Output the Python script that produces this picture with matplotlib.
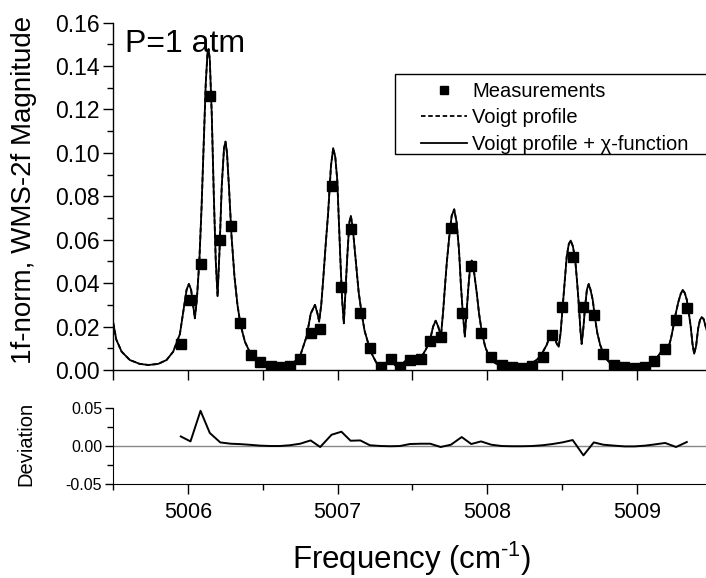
import matplotlib
matplotlib.use('Agg')
import matplotlib.pyplot as plt
from matplotlib.ticker import MultipleLocator
from matplotlib.patches import Rectangle

plt.rcParams['font.family'] = ['Liberation Sans', 'DejaVu Sans']
plt.rcParams['mathtext.fontset'] = 'custom'
plt.rcParams['mathtext.rm'] = 'Liberation Sans'
plt.rcParams['mathtext.it'] = 'Liberation Sans:italic'

# measured points (frequency in cm-1, WMS-2f magnitude)
meas_freq = [5005.951, 5006.016, 5006.083, 5006.145, 5006.215, 5006.285, 5006.346,
             5006.419, 5006.482, 5006.551, 5006.613, 5006.680, 5006.749, 5006.819,
             5006.883, 5006.959, 5007.025, 5007.086, 5007.151, 5007.215, 5007.289,
             5007.354, 5007.416, 5007.483, 5007.555, 5007.619, 5007.688, 5007.757,
             5007.829, 5007.893, 5007.958, 5008.027, 5008.096, 5008.163, 5008.230,
             5008.300, 5008.370, 5008.433, 5008.502, 5008.571, 5008.643, 5008.712,
             5008.776, 5008.848, 5008.917, 5008.986, 5009.055, 5009.117, 5009.189,
             5009.262, 5009.334]
meas_val = [0.0120, 0.0323, 0.0487, 0.1260, 0.0600, 0.0664, 0.0218,
            0.0071, 0.0035, 0.0018, 0.0014, 0.0020, 0.0051, 0.0172,
            0.0189, 0.0848, 0.0383, 0.0650, 0.0261, 0.0103, 0.0012,
            0.0052, 0.0015, 0.0046, 0.0049, 0.0134, 0.0150, 0.0654,
            0.0261, 0.0479, 0.0172, 0.0058, 0.0025, 0.0014, 0.0010,
            0.0020, 0.0061, 0.0161, 0.0289, 0.0519, 0.0289, 0.0253,
            0.0074, 0.0023, 0.0012, 0.0009, 0.0015, 0.0041, 0.0097,
            0.0230, 0.0284]

# deviation at each measured point
deviation = [0.0125, 0.0060, 0.0460, 0.0170, 0.0047, 0.0030, 0.0025,
             0.0015, 0.0005, 0.0000, 0.0000, 0.0010, 0.0030, 0.0073,
             -0.0013, 0.0147, 0.0187, 0.0069, 0.0073, 0.0010, 0.0000,
             -0.0003, 0.0000, 0.0026, 0.0030, 0.0030, -0.0013, 0.0017,
             0.0117, 0.0026, 0.0060, 0.0017, 0.0000, -0.0003, -0.0003,
             0.0000, 0.0010, 0.0025, 0.0047, 0.0078, -0.0122, 0.0047,
             0.0017, 0.0005, -0.0005, -0.0005, 0.0005, 0.0020, 0.0040,
             -0.0013, 0.0052]

# fitted profile
fit_freq = [5005.500, 5005.520, 5005.555, 5005.610, 5005.677, 5005.735, 5005.800,
            5005.856, 5005.900, 5005.945, 5005.975, 5005.990, 5006.005, 5006.020,
            5006.033, 5006.045, 5006.058, 5006.075, 5006.090, 5006.105, 5006.118,
            5006.130, 5006.137, 5006.145, 5006.158, 5006.172, 5006.185, 5006.197,
            5006.210, 5006.225, 5006.240, 5006.250, 5006.260, 5006.275, 5006.290,
            5006.310, 5006.330, 5006.350, 5006.380, 5006.415, 5006.450, 5006.500,
            5006.550, 5006.600, 5006.650, 5006.700, 5006.747, 5006.792, 5006.820,
            5006.848, 5006.865, 5006.876, 5006.890, 5006.903, 5006.920, 5006.936,
            5006.955, 5006.970, 5006.984, 5006.997, 5007.008, 5007.019, 5007.030,
            5007.041, 5007.052, 5007.064, 5007.078, 5007.088, 5007.100, 5007.122,
            5007.140, 5007.160, 5007.180, 5007.204, 5007.230, 5007.260, 5007.293,
            5007.320, 5007.350, 5007.380, 5007.406, 5007.435, 5007.460, 5007.500,
            5007.530, 5007.561, 5007.590, 5007.617, 5007.638, 5007.655, 5007.672,
            5007.690, 5007.705, 5007.717, 5007.730, 5007.746, 5007.762, 5007.779,
            5007.795, 5007.811, 5007.823, 5007.835, 5007.850, 5007.862, 5007.874,
            5007.885, 5007.896, 5007.910, 5007.930, 5007.945, 5007.963, 5007.985,
            5008.007, 5008.040, 5008.074, 5008.120, 5008.163, 5008.210, 5008.252,
            5008.290, 5008.330, 5008.365, 5008.397, 5008.415, 5008.432, 5008.450,
            5008.465, 5008.478, 5008.490, 5008.504, 5008.518, 5008.531, 5008.545,
            5008.558, 5008.572, 5008.587, 5008.600, 5008.613, 5008.623, 5008.631,
            5008.642, 5008.654, 5008.666, 5008.678, 5008.690, 5008.705, 5008.720,
            5008.736, 5008.755, 5008.776, 5008.800, 5008.820, 5008.860, 5008.910,
            5008.955, 5009.000, 5009.040, 5009.077, 5009.105, 5009.133, 5009.155,
            5009.178, 5009.195, 5009.210, 5009.228, 5009.244, 5009.260, 5009.278,
            5009.293, 5009.307, 5009.320, 5009.334, 5009.348, 5009.360, 5009.372,
            5009.383, 5009.396, 5009.410, 5009.422, 5009.433, 5009.446, 5009.460,
            5009.480]
fit_val = [0.0215, 0.0140, 0.0085, 0.0046, 0.0028, 0.0023, 0.0028,
           0.0046, 0.0084, 0.0165, 0.0300, 0.0370, 0.0396, 0.0370,
           0.0300, 0.0238, 0.0320, 0.0500, 0.0750, 0.1050, 0.1320,
           0.1465, 0.1478, 0.1430, 0.1180, 0.0800, 0.0500, 0.0340,
           0.0550, 0.0850, 0.1020, 0.1052, 0.1000, 0.0820, 0.0620,
           0.0430, 0.0300, 0.0210, 0.0130, 0.0078, 0.0045, 0.0025,
           0.0017, 0.0013, 0.0017, 0.0032, 0.0061, 0.0154, 0.0260,
           0.0300, 0.0260, 0.0223, 0.0300, 0.0415, 0.0580, 0.0722,
           0.0940, 0.1022, 0.0980, 0.0876, 0.0680, 0.0492, 0.0320,
           0.0215, 0.0360, 0.0522, 0.0680, 0.0710, 0.0660, 0.0492,
           0.0360, 0.0261, 0.0180, 0.0123, 0.0072, 0.0031, 0.0008,
           0.0028, 0.0046, 0.0025, 0.0008, 0.0030, 0.0046, 0.0048,
           0.0046, 0.0061, 0.0095, 0.0138, 0.0200, 0.0227, 0.0200,
           0.0154, 0.0270, 0.0384, 0.0500, 0.0614, 0.0710, 0.0740,
           0.0680, 0.0553, 0.0400, 0.0276, 0.0154, 0.0270, 0.0384,
           0.0470, 0.0504, 0.0460, 0.0353, 0.0260, 0.0177, 0.0110,
           0.0069, 0.0038, 0.0023, 0.0012, 0.0008, 0.0011, 0.0015,
           0.0028, 0.0046, 0.0075, 0.0115, 0.0150, 0.0168, 0.0150,
           0.0120, 0.0107, 0.0170, 0.0292, 0.0420, 0.0522, 0.0580,
           0.0596, 0.0570, 0.0515, 0.0410, 0.0292, 0.0180, 0.0120,
           0.0190, 0.0292, 0.0370, 0.0396, 0.0370, 0.0323, 0.0240,
           0.0169, 0.0115, 0.0077, 0.0048, 0.0031, 0.0015, 0.0008,
           0.0006, 0.0008, 0.0014, 0.0023, 0.0036, 0.0054, 0.0078,
           0.0100, 0.0095, 0.0100, 0.0145, 0.0200, 0.0260, 0.0315,
           0.0350, 0.0369, 0.0355, 0.0323, 0.0260, 0.0200, 0.0120,
           0.0075, 0.0110, 0.0192, 0.0230, 0.0243, 0.0235, 0.0200,
           0.0150]

W, H = 706, 578
fig = plt.figure(figsize=(7.06, 5.78), dpi=100)
ax = fig.add_axes([0.1605, 0.3599, 0.8475, 0.6009])
ax2 = fig.add_axes([0.1605, 0.1621, 0.8475, 0.1325])

# top panel
ax.plot(fit_freq, fit_val, color='black', lw=1.3, ls=(0, (2.5, 1.5)), label='Voigt profile')
ax.plot(fit_freq, fit_val, color='black', lw=1.3, label=u'Voigt profile + \u03c7-function')
ax.plot(meas_freq, meas_val, 's', color='black', ms=6.8, ls='none', label='Measurements')
ax.set_xlim(5005.5, 5009.5)
ax.set_ylim(0, 0.16)
ax.yaxis.set_minor_locator(MultipleLocator(0.01))
ax.xaxis.set_major_locator(MultipleLocator(1))
ax.xaxis.set_minor_locator(MultipleLocator(0.5))
ax.set_yticks([0, 0.02, 0.04, 0.06, 0.08, 0.10, 0.12, 0.14, 0.16])
ax.set_yticklabels(['0.00', '0.02', '0.04', '0.06', '0.08', '0.10', '0.12', '0.14', '0.16'])
ax.tick_params(axis='y', which='major', length=7.5, width=1, labelsize=16.5, pad=2)
ax.tick_params(axis='y', which='minor', length=4, width=1)
ax.tick_params(axis='x', which='both', length=7, width=1, labelbottom=False)
for s in ['top', 'right']:
    ax.spines[s].set_visible(False)
for s in ['left', 'bottom']:
    ax.spines[s].set_linewidth(1)

ax.text(5005.581, 0.1467, 'P=1 atm', fontsize=23, va='baseline', ha='left')

# legend: entries without frame, box drawn separately
h, l = ax.get_legend_handles_labels()
order = [2, 0, 1]
leg = ax.legend([h[i] for i in order], [l[i] for i in order],
                loc='upper left', bbox_to_anchor=(421 / W, 1 - 82 / H),
                bbox_transform=fig.transFigure, fontsize=14.5, frameon=False,
                borderpad=0, handlelength=2.3, handletextpad=0.25,
                labelspacing=0.37, markerscale=0.85, borderaxespad=0)
fig.patches.append(Rectangle((395 / W, 1 - 153.5 / H), 312 / W, 79.5 / H,
                             transform=fig.transFigure, fill=False,
                             edgecolor='black', lw=1, zorder=5))

# bottom panel
ax2.axhline(0, color='#888888', lw=1)
ax2.plot(meas_freq, deviation, color='black', lw=1.4)
ax2.set_xlim(5005.5, 5009.5)
ax2.set_ylim(-0.05, 0.05)
ax2.set_yticks([-0.05, 0.0, 0.05])
ax2.set_yticklabels(['-0.05', '0.00', '0.05'])
ax2.yaxis.set_minor_locator(MultipleLocator(0.025))
ax2.xaxis.set_major_locator(MultipleLocator(1))
ax2.xaxis.set_minor_locator(MultipleLocator(0.5))
ax2.tick_params(axis='y', which='major', length=6, width=1, labelsize=11.5, pad=2)
ax2.tick_params(axis='y', which='minor', length=4, width=1)
ax2.tick_params(axis='x', which='major', length=7, width=1, labelsize=15.5, pad=6)
ax2.tick_params(axis='x', which='minor', length=4, width=1)
for s in ['top', 'right']:
    ax2.spines[s].set_visible(False)

fig.text(24 / W, 1 - 190 / H, '1f-norm, WMS-2f Magnitude', rotation=90,
         ha='center', va='center', fontsize=20)
fig.text(26 / W, 1 - 444 / H, 'Deviation', rotation=90,
         ha='center', va='center', fontsize=14.5)
fig.text(412 / W, 1 - 569 / H, r'Frequency (cm$^{\text{-1}}$)',
         ha='center', va='baseline', fontsize=22.5)

fig.savefig('out.png', dpi=100)
